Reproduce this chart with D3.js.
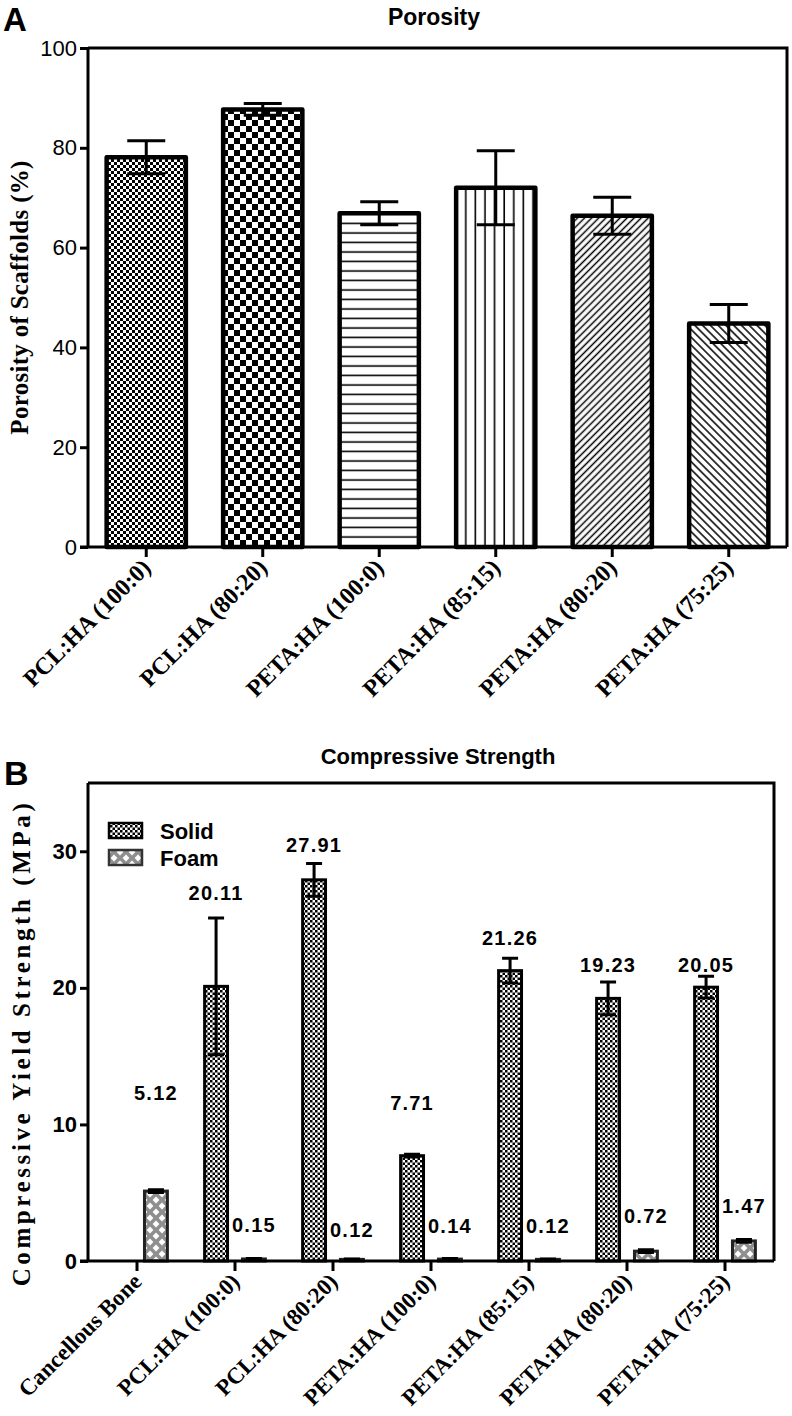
<!DOCTYPE html>
<html>
<head>
<meta charset="utf-8">
<script src="https://cdn.jsdelivr.net/npm/d3@7/dist/d3.min.js"></script>
<style>
  html, body { margin: 0; padding: 0; background: #fff; }
  svg { display: block; }
</style>
</head>
<body>
<svg id="chart" width="792" height="1416"></svg>
<script>
// ---------- DATA ----------
const catsA = ["PCL:HA (100:0)", "PCL:HA (80:20)", "PETA:HA (100:0)", "PETA:HA (85:15)", "PETA:HA (80:20)", "PETA:HA (75:25)"];
const porosity = [78.1, 87.7, 66.9, 72.0, 66.4, 44.8];
const porosityErr = [3.3, 1.2, 2.3, 7.4, 3.7, 3.8];
const ticksA = [0, 20, 40, 60, 80, 100];

const catsB = ["Cancellous Bone", "PCL:HA (100:0)", "PCL:HA (80:20)", "PETA:HA (100:0)", "PETA:HA (85:15)", "PETA:HA (80:20)", "PETA:HA (75:25)"];
const seriesB = ["Solid", "Foam"];
const solid = [null, 20.11, 27.91, 7.71, 21.26, 19.23, 20.05];
const solidErr = [null, 5.0, 1.2, 0.1, 0.9, 1.2, 0.8];
const foam = [5.12, 0.15, 0.12, 0.14, 0.12, 0.72, 1.47];
const foamErr = [0.1, 0.04, 0.03, 0.04, 0.03, 0.1, 0.1];
const ticksB = [0, 10, 20, 30];

// ---------- LAYOUT / STYLE ----------
const patA = ["chkS", "chkL", "horiz", "vert", "diagR", "diagL"];
const solidLabelOff = [null, 18, 11, 44, 13, 10, 4];
const foamLabelOff = [90, 26, 22, 26, 26, 27, 27];

const svg = d3.select("#chart");
const defs = svg.append("defs");

function pattern(id, w, h, build, transform) {
  const p = defs.append("pattern").attr("id", id).attr("patternUnits", "userSpaceOnUse")
    .attr("width", w).attr("height", h);
  if (transform) p.attr("patternTransform", transform);
  p.append("rect").attr("width", w).attr("height", h).attr("fill", "#fff");
  build(p);
}
pattern("chkS", 6, 6, p => {
  p.append("rect").attr("x", 0).attr("y", 0).attr("width", 3).attr("height", 3).attr("fill", "#000");
  p.append("rect").attr("x", 3).attr("y", 3).attr("width", 3).attr("height", 3).attr("fill", "#000");
});
pattern("chkB", 5, 5, p => {
  p.append("rect").attr("x", 0).attr("y", 0).attr("width", 2.5).attr("height", 2.5).attr("fill", "#000");
  p.append("rect").attr("x", 2.5).attr("y", 2.5).attr("width", 2.5).attr("height", 2.5).attr("fill", "#000");
});
pattern("chkL", 12, 12, p => {
  p.append("rect").attr("x", 0).attr("y", 0).attr("width", 6).attr("height", 6).attr("fill", "#000");
  p.append("rect").attr("x", 6).attr("y", 6).attr("width", 6).attr("height", 6).attr("fill", "#000");
});
pattern("horiz", 10, 9.5, p => {
  p.append("line").attr("x1", 0).attr("x2", 10).attr("y1", 5).attr("y2", 5).attr("stroke", "#000").attr("stroke-width", 1.6);
});
pattern("vert", 9.6, 10, p => {
  p.append("line").attr("y1", 0).attr("y2", 10).attr("x1", 5).attr("x2", 5).attr("stroke", "#000").attr("stroke-width", 1.6);
});
pattern("diagR", 5, 5, p => {
  p.append("line").attr("y1", 0).attr("y2", 5).attr("x1", 2.5).attr("x2", 2.5).attr("stroke", "#000").attr("stroke-width", 1.5);
}, "rotate(45)");
pattern("diagL", 5.5, 5.5, p => {
  p.append("line").attr("y1", 0).attr("y2", 5.5).attr("x1", 2.75).attr("x2", 2.75).attr("stroke", "#000").attr("stroke-width", 1.5);
}, "rotate(-45)");
(function () {
  const p = defs.append("pattern").attr("id", "foam").attr("patternUnits", "userSpaceOnUse")
    .attr("width", 12).attr("height", 12);
  p.append("rect").attr("width", 12).attr("height", 12).attr("fill", "#8f8f8f");
  const d = 3.4;
  [[6, 6], [0, 0], [12, 0], [0, 12], [12, 12]].forEach(([cx, cy]) => {
    p.append("polygon").attr("points", `${cx},${cy - d} ${cx + d},${cy} ${cx},${cy + d} ${cx - d},${cy}`).attr("fill", "#fff");
  });
})();

const sans = "Arial, 'Liberation Sans', Helvetica, sans-serif";
const serif = "'Times New Roman', 'Liberation Serif', Times, serif";

// ================= PANEL A =================
const A = { l: 88, r: 787, t: 48, b: 547 };
const xA = d3.scaleBand().domain(catsA).range([A.l, A.r]).paddingInner(0.32).paddingOuter(0.16);
const yA = d3.scaleLinear().domain([0, 100]).range([A.b, A.t]);

const gA = svg.append("g");
gA.append("path").attr("d", `M${A.l},${A.t}H${A.r}V${A.b}`).attr("fill", "none").attr("stroke", "#000").attr("stroke-width", 3);

gA.selectAll("rect.bar").data(catsA).join("rect")
  .attr("x", d => xA(d)).attr("width", xA.bandwidth())
  .attr("y", (d, i) => yA(porosity[i])).attr("height", (d, i) => yA(0) - yA(porosity[i]))
  .attr("fill", (d, i) => `url(#${patA[i]})`)
  .attr("stroke", "#000").attr("stroke-width", 4.5).attr("stroke-linejoin", "round");

const capA = 38;
catsA.forEach((c, i) => {
  const cx = xA(c) + xA.bandwidth() / 2;
  const hi = yA(porosity[i] + porosityErr[i]), lo = yA(porosity[i] - porosityErr[i]);
  gA.append("path")
    .attr("d", `M${cx},${hi}V${lo}M${cx - capA / 2},${hi}H${cx + capA / 2}M${cx - capA / 2},${lo}H${cx + capA / 2}`)
    .attr("stroke", "#000").attr("stroke-width", 3).attr("fill", "none");
});

const axYA = d3.axisLeft(yA).tickValues(ticksA).tickSize(8).tickPadding(3).tickFormat(d3.format("d"));
const gyA = gA.append("g").attr("transform", `translate(${A.l},0)`).call(axYA);
gyA.select(".domain").attr("stroke-width", 3).attr("d", `M0,${A.t}V${A.b}`);
gyA.selectAll(".tick line").attr("stroke-width", 3);
gyA.selectAll(".tick text").attr("font-family", sans).attr("font-size", 22).attr("fill", "#000");

const axXA = d3.axisBottom(xA).tickSize(10).tickSizeOuter(0).tickFormat("");
const gxA = gA.append("g").attr("transform", `translate(0,${A.b})`).call(axXA);
gxA.select(".domain").attr("stroke-width", 3).attr("d", `M${A.l - 8},0H${A.r}`);
gxA.selectAll(".tick line").attr("stroke-width", 3);
catsA.forEach(c => {
  const cx = xA(c) + xA.bandwidth() / 2;
  gA.append("text").attr("transform", `translate(${cx + 6},${A.b + 22}) rotate(-45)`)
    .attr("text-anchor", "end").attr("font-family", serif).attr("font-weight", "bold").attr("font-size", 24)
    .text(c);
});

gA.append("text").attr("x", 434).attr("y", 25).attr("text-anchor", "middle").attr("font-family", sans)
  .attr("font-weight", "bold").attr("font-size", 23).text("Porosity");
gA.append("text").attr("x", 3).attr("y", 31).attr("font-family", sans).attr("font-weight", "bold")
  .attr("font-size", 33).text("A");
gA.append("text").attr("transform", `translate(28,${(A.t + A.b) / 2}) rotate(-90)`).attr("text-anchor", "middle")
  .attr("font-family", serif).attr("font-weight", "bold").attr("font-size", 25).attr("letter-spacing", 0.3)
  .text("Porosity of Scaffolds (%)");

// ================= PANEL B =================
const B = { l: 88, r: 774, t: 783, b: 1261 };
const xB = d3.scaleBand().domain(catsB).range([B.l, B.r]).paddingInner(0.38).paddingOuter(0.19);
const xB1 = d3.scaleBand().domain(seriesB).range([0, xB.bandwidth()]).paddingInner(0.395);
const yB = d3.scaleLinear().domain([0, 35]).range([B.b, B.t]);

const gB = svg.append("g");
gB.append("path").attr("d", `M${B.l},${B.t}H${B.r}V${B.b}`).attr("fill", "none").attr("stroke", "#000").attr("stroke-width", 3);

const recs = [];
catsB.forEach((c, i) => {
  if (solid[i] != null) recs.push({ c, s: "Solid", v: solid[i], e: solidErr[i], off: solidLabelOff[i] });
  recs.push({ c, s: "Foam", v: foam[i], e: foamErr[i], off: foamLabelOff[i] });
});

gB.selectAll("rect.bar").data(recs).join("rect")
  .attr("x", d => xB(d.c) + xB1(d.s)).attr("width", xB1.bandwidth())
  .attr("y", d => yB(d.v)).attr("height", d => yB(0) - yB(d.v))
  .attr("fill", d => d.s === "Solid" ? "url(#chkB)" : "url(#foam)")
  .attr("stroke", d => d.s === "Solid" ? "#000" : "#222").attr("stroke-width", 3);

const capB = 16;
recs.forEach(d => {
  const cx = xB(d.c) + xB1(d.s) + xB1.bandwidth() / 2;
  const hi = yB(d.v + d.e), lo = yB(Math.max(0, d.v - d.e));
  gB.append("path")
    .attr("d", `M${cx},${hi}V${lo}M${cx - capB / 2},${hi}H${cx + capB / 2}M${cx - capB / 2},${lo}H${cx + capB / 2}`)
    .attr("stroke", "#000").attr("stroke-width", 3).attr("fill", "none");
  gB.append("text").attr("x", cx).attr("y", hi - d.off).attr("text-anchor", "middle")
    .attr("font-family", sans).attr("font-weight", "bold").attr("font-size", 20).attr("letter-spacing", 1.2)
    .text(d.v.toFixed(2));
});

const axYB = d3.axisLeft(yB).tickValues(ticksB).tickSize(8).tickPadding(3).tickFormat(d3.format("d"));
const gyB = gB.append("g").attr("transform", `translate(${B.l},0)`).call(axYB);
gyB.select(".domain").attr("stroke-width", 3).attr("d", `M0,${B.t}V${B.b}`);
gyB.selectAll(".tick line").attr("stroke-width", 3);
gyB.selectAll(".tick text").attr("font-family", sans).attr("font-weight", "bold").attr("font-size", 22).attr("fill", "#000");

const axXB = d3.axisBottom(xB).tickSize(10).tickSizeOuter(0).tickFormat("");
const gxB = gB.append("g").attr("transform", `translate(0,${B.b})`).call(axXB);
gxB.select(".domain").attr("stroke-width", 3).attr("d", `M${B.l - 8},0H${B.r}`);
gxB.selectAll(".tick line").attr("stroke-width", 3);
catsB.forEach(c => {
  const cx = xB(c) + xB.bandwidth() / 2;
  gB.append("text").attr("transform", `translate(${cx + 6},${B.b + 22}) rotate(-45)`)
    .attr("text-anchor", "end").attr("font-family", serif).attr("font-weight", "bold").attr("font-size", 23)
    .text(c);
});

seriesB.forEach((s, i) => {
  const y = 823 + i * 27;
  gB.append("rect").attr("x", 109).attr("y", y).attr("width", 33).attr("height", 15)
    .attr("fill", s === "Solid" ? "url(#chkB)" : "url(#foam)").attr("stroke", s === "Solid" ? "#000" : "#333").attr("stroke-width", 2.5);
  gB.append("text").attr("x", 160).attr("y", y + 16).attr("font-family", sans).attr("font-weight", "bold")
    .attr("font-size", 22).text(s);
});

gB.append("text").attr("x", 438).attr("y", 764).attr("text-anchor", "middle").attr("font-family", sans)
  .attr("font-weight", "bold").attr("font-size", 22).text("Compressive Strength");
gB.append("text").attr("x", 4).attr("y", 785).attr("font-family", sans).attr("font-weight", "bold")
  .attr("font-size", 34).text("B");
gB.append("text").attr("transform", `translate(30,1043) rotate(-90)`).attr("text-anchor", "middle")
  .attr("font-family", serif).attr("font-weight", "bold").attr("font-size", 25).attr("letter-spacing", 3.6)
  .text("Compressive Yield Strength (MPa)");
</script>
</body>
</html>
